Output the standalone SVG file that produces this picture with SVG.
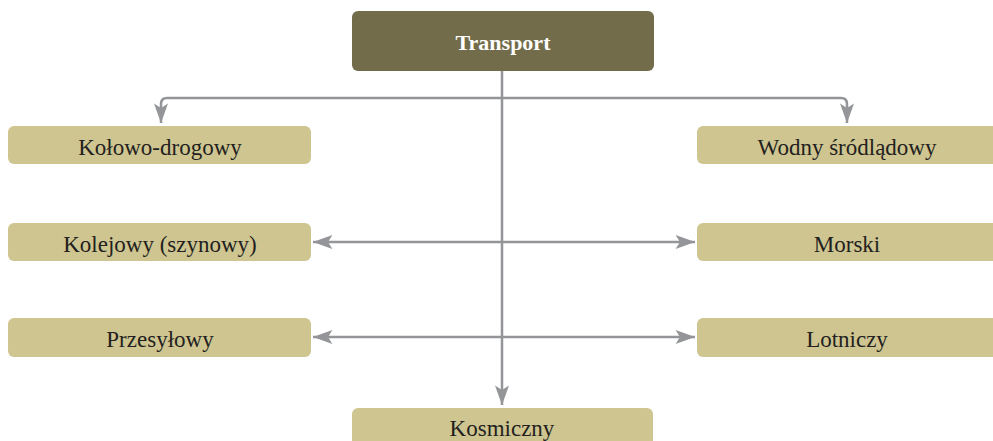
<svg xmlns="http://www.w3.org/2000/svg" width="993" height="441" viewBox="0 0 993 441">
<style>
.box{fill:#cfc590}
.root{fill:#736c4a}
.t{font-family:"Liberation Serif",serif;font-size:23px;fill:#231f20;text-anchor:middle}
.tb{font-family:"Liberation Serif",serif;font-size:22px;font-weight:bold;fill:#ffffff;text-anchor:middle}
.c{fill:none;stroke:#939598;stroke-width:2.5}
</style>
<defs>
<marker id="ah" markerUnits="userSpaceOnUse" markerWidth="20" markerHeight="14" viewBox="0 0 18 13" refX="18" refY="6.5" orient="auto-start-reverse">
<path d="M0,0 L18,6.5 L0,13 L4,6.5 Z" fill="#939598"/>
</marker>
</defs>
<g id="connectors">
<path class="c" d="M502,71 V405" marker-end="url(#ah)"/>
<path class="c" d="M502,98 H167 Q161,98 161,104 V123" marker-end="url(#ah)"/>
<path class="c" d="M502,98 H841 Q847,98 847,104 V123" marker-end="url(#ah)"/>
<path class="c" d="M313,242 H695" marker-start="url(#ah)" marker-end="url(#ah)"/>
<path class="c" d="M313,337 H695" marker-start="url(#ah)" marker-end="url(#ah)"/>
</g>
<g id="transport">
<rect class="root" x="352" y="11" width="302" height="60" rx="6"/>
<text class="tb" x="503" y="50">Transport</text>
</g>
<g id="kolowo">
<rect class="box" x="8" y="126" width="303" height="38" rx="6"/>
<text class="t" x="160" y="155">Kołowo-drogowy</text>
</g>
<g id="wodny">
<rect class="box" x="697" y="126" width="302" height="38" rx="6"/>
<text class="t" x="847" y="155">Wodny śródlądowy</text>
</g>
<g id="kolejowy">
<rect class="box" x="8" y="223" width="303" height="38" rx="6"/>
<text class="t" x="160" y="252">Kolejowy (szynowy)</text>
</g>
<g id="morski">
<rect class="box" x="697" y="223" width="302" height="38" rx="6"/>
<text class="t" x="847" y="252">Morski</text>
</g>
<g id="przesylowy">
<rect class="box" x="8" y="318" width="303" height="39" rx="6"/>
<text class="t" x="160" y="347">Przesyłowy</text>
</g>
<g id="lotniczy">
<rect class="box" x="697" y="318" width="302" height="39" rx="6"/>
<text class="t" x="847" y="347">Lotniczy</text>
</g>
<g id="kosmiczny">
<rect class="box" x="352" y="408" width="301" height="45" rx="6"/>
<text class="t" x="502" y="436">Kosmiczny</text>
</g>
</svg>
